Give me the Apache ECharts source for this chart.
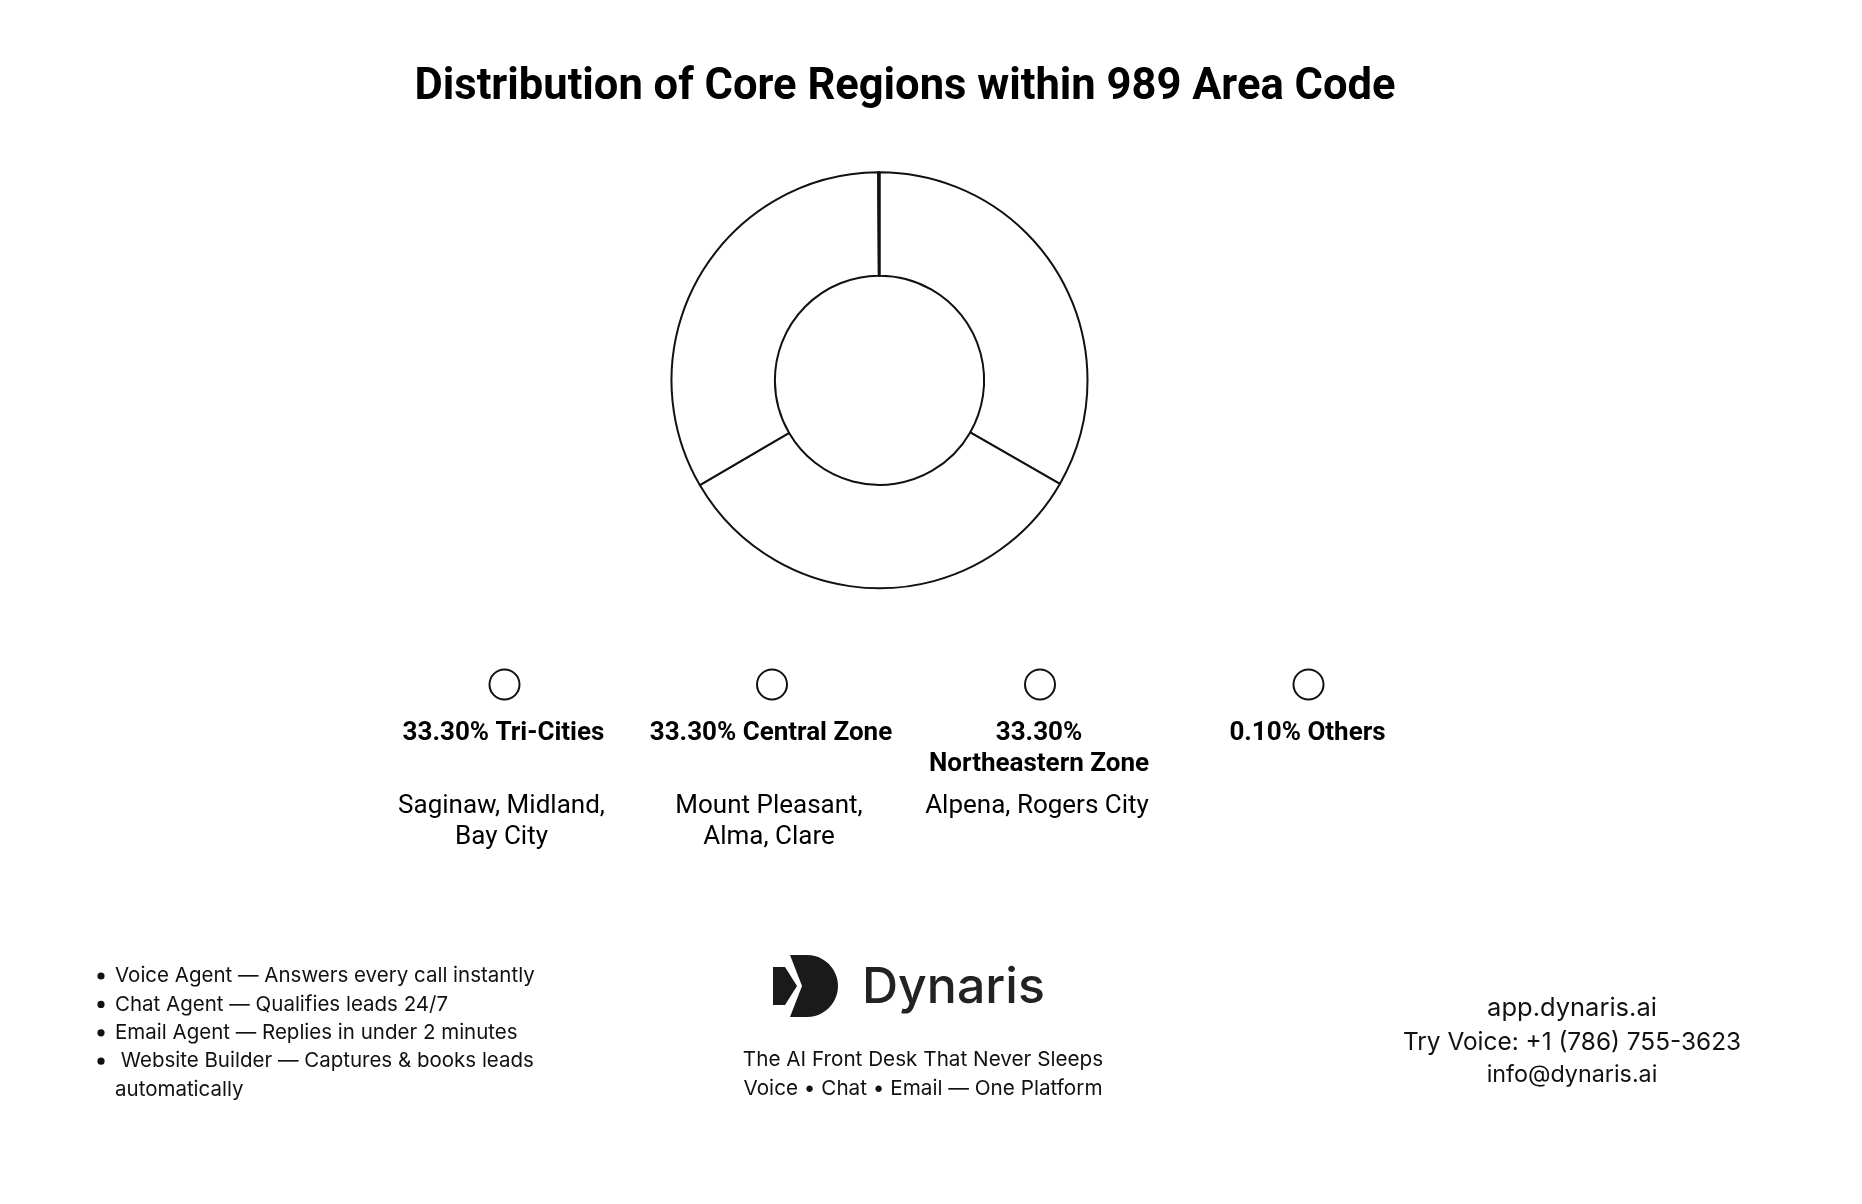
<!DOCTYPE html>
<html><head><meta charset="utf-8">
<script src="https://cdn.jsdelivr.net/npm/echarts@6/dist/echarts.min.js"></script>
<style>html,body{margin:0;padding:0;background:#fff}#c{width:1862px;height:1204px}</style>
</head><body><div id="c"></div>
<script>
const chartTitle = 'Distribution of Core Regions within 989 Area Code';
const categories = ['Tri-Cities', 'Central Zone', 'Northeastern Zone', 'Others'];
const shares = [33.3, 33.3, 33.3, 0.1];
const regionTowns = ['Saginaw, Midland,\nBay City', 'Mount Pleasant,\nAlma, Clare', 'Alpena, Rogers City', ''];
const features = [
  'Voice Agent \u2014 Answers every call instantly',
  'Chat Agent \u2014 Qualifies leads 24/7',
  'Email Agent \u2014 Replies in under 2 minutes',
  ' Website Builder \u2014 Captures & books leads\nautomatically'
];
const brandName = 'Dynaris';
const taglines = ['The AI Front Desk That Never Sleeps', 'Voice \u2022 Chat \u2022 Email \u2014 One Platform'];
const contacts = ['app.dynaris.ai', 'Try Voice: +1 (786) 755-3623', 'info@dynaris.ai'];

const chart = echarts.init(document.getElementById('c'), null, {renderer: 'canvas'});
const FONT = 'Roboto, "Liberation Sans", sans-serif';
const FOOT = 'Inter, "Noto Sans", sans-serif';
const measureCtx = document.createElement('canvas').getContext('2d');
function textWidth(t, font) { measureCtx.font = font; return measureCtx.measureText(t).width; }

const legendX = [503.5, 771, 1039, 1307.5];
const legendY = 683.5;
const iconSize = 30;

const legends = categories.map((name, i) => ({
  data: [name],
  left: legendX[i] - iconSize / 2 - 5,
  top: legendY - iconSize / 2 - 5,
  icon: 'circle',
  itemWidth: iconSize,
  itemHeight: iconSize,
  selectedMode: false,
  formatter: () => '',
  itemStyle: {color: '#fff', borderColor: '#111', borderWidth: 2}
}));

const graphics = [];
graphics.push({type: 'text', x: 905, y: 88, style: {text: chartTitle, fontFamily: FONT, fontWeight: 'bold', fontSize: 43.5, fill: '#000', align: 'center', verticalAlign: 'middle'}});

categories.forEach((name, i) => {
  const pct = shares[i].toFixed(2) + '%';
  const boldFont = 'bold 26px Roboto';
  let label = pct + ' ' + name;
  if (textWidth(label, boldFont) > 255) label = pct + '\n' + name;
  graphics.push({type: 'text', x: legendX[i], y: 733 - 15.5, style: {text: label, fontFamily: FONT, fontWeight: 'bold', fontSize: 26, lineHeight: 31, fill: '#000', align: 'center', verticalAlign: 'top'}});
  if (regionTowns[i]) {
    graphics.push({type: 'text', x: legendX[i] - 2, y: 806.4 - 15.5, style: {text: regionTowns[i], fontFamily: FONT, fontSize: 26, lineHeight: 31, fill: '#000', align: 'center', verticalAlign: 'top'}});
  }
});

// feature bullets
const lh = 28.4;
let lineIdx = 0;
features.forEach((f) => {
  const y0 = 976 + lineIdx * lh;
  graphics.push({type: 'circle', shape: {cx: 101, cy: y0, r: 3.6}, style: {fill: '#111'}});
  graphics.push({type: 'text', x: 115, y: y0 - lh / 2, style: {text: f, fontFamily: FOOT, fontSize: 20.5, lineHeight: lh, fill: '#111', align: 'left', verticalAlign: 'top'}});
  lineIdx += f.split('\n').length;
});

// logo icon (decorative)
const dPts = [[790, 955]];
for (let k = 0; k <= 24; k++) {
  const a = -Math.PI / 2 + Math.PI * k / 24;
  dPts.push([807 + 31 * Math.cos(a), 986 + 31 * Math.sin(a)]);
}
dPts.push([790, 1017], [802, 986]);
graphics.push({type: 'polygon', shape: {points: [[773, 967], [785, 967], [797, 986], [785, 1005], [773, 1005]]}, style: {fill: '#1a1a1a'}});
graphics.push({type: 'polygon', shape: {points: dPts}, style: {fill: '#1a1a1a'}});
graphics.push({type: 'text', x: 862, y: 988, style: {text: brandName, fontFamily: 'Inter, sans-serif', fontWeight: 500, fontSize: 50, fill: '#222', align: 'left', verticalAlign: 'middle'}});
taglines.forEach((t, i) => {
  graphics.push({type: 'text', x: 923, y: 1060 + i * 29, style: {text: t, fontFamily: FOOT, fontSize: 20.7, fill: '#111', align: 'center', verticalAlign: 'middle'}});
});
const contactY = [1008, 1043, 1075];
const contactSize = [25.5, 24.4, 23.3];
contacts.forEach((t, i) => {
  graphics.push({type: 'text', x: 1572, y: contactY[i], style: {text: t, fontFamily: FOOT, fontSize: contactSize[i], fill: '#111', align: 'center', verticalAlign: 'middle'}});
});

chart.setOption({
  backgroundColor: '#fff',
  animation: false,
  legend: legends,
  graphic: graphics,
  series: [{
    type: 'pie',
    center: [879.5, 380.3],
    radius: [104.6, 208],
    startAngle: 90,
    clockwise: true,
    silent: true,
    label: {show: false},
    labelLine: {show: false},
    emphasis: {disabled: true},
    itemStyle: {color: '#fff', borderColor: '#111', borderWidth: 2},
    data: categories.map((n, i) => ({name: n, value: shares[i]}))
  }]
});
</script></body></html>
